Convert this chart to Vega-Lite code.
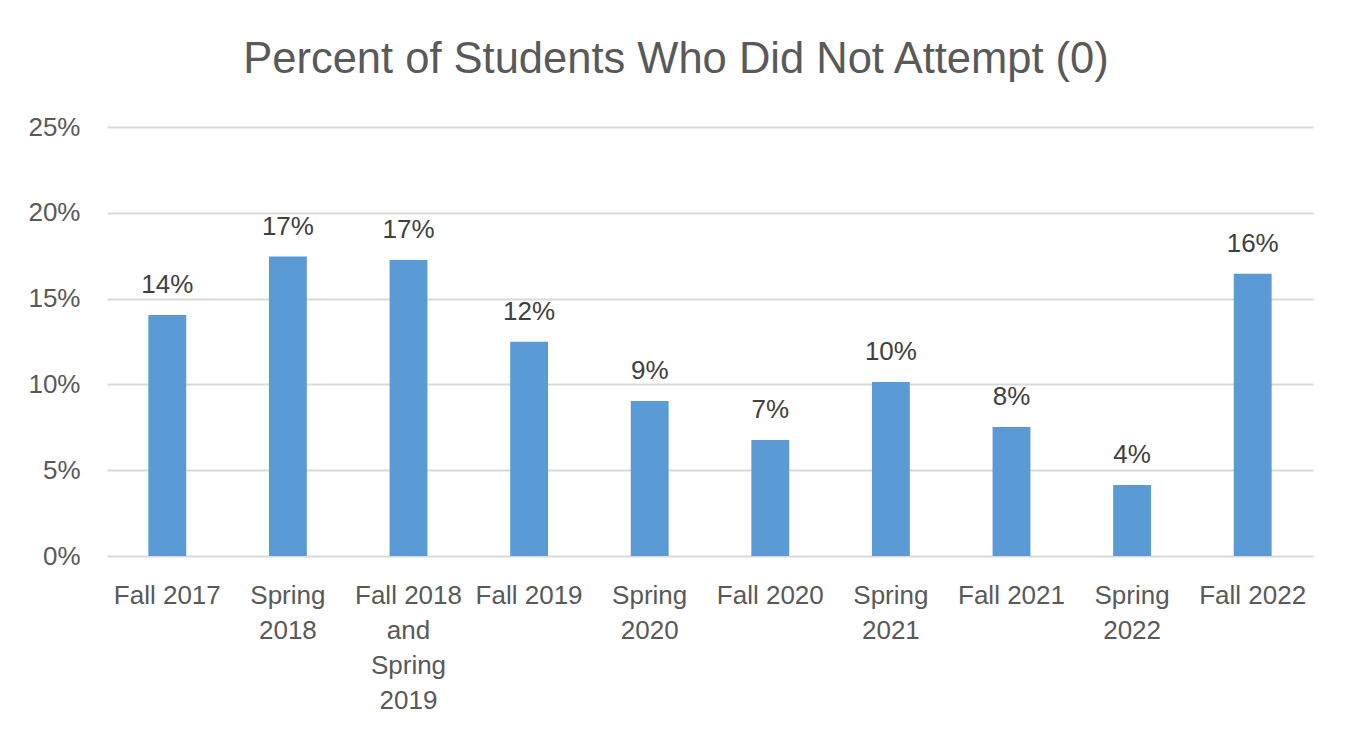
{
  "$schema": "https://vega.github.io/schema/vega-lite/v6.json",
  "width": 1206,
  "height": 429,
  "autosize": {"type": "none"},
  "padding": {"left": 107, "top": 127, "right": 38, "bottom": 173},
  "background": "white",
  "title": {
    "text": "Percent of Students Who Did Not Attempt (0)",
    "font": "Liberation Sans",
    "fontSize": 43.5,
    "fontWeight": "normal",
    "color": "#595959",
    "anchor": "middle",
    "dx": -34,
    "offset": 32
  },
  "data": {
    "values": [
      {"term": "Fall 2017", "pct": 0.1404},
      {"term": "Spring 2018", "pct": 0.1745},
      {"term": "Fall 2018 and Spring 2019", "pct": 0.1725},
      {"term": "Fall 2019", "pct": 0.1249},
      {"term": "Spring 2020", "pct": 0.0903},
      {"term": "Fall 2020", "pct": 0.0676},
      {"term": "Spring 2021", "pct": 0.1014},
      {"term": "Fall 2021", "pct": 0.0752},
      {"term": "Spring 2022", "pct": 0.0414},
      {"term": "Fall 2022", "pct": 0.1645}
    ]
  },
  "encoding": {
    "x": {
      "field": "term",
      "type": "nominal",
      "sort": null,
      "scale": {"paddingInner": 0.686, "paddingOuter": 0.343},
      "axis": {
        "title": null,
        "labelAngle": 0,
        "ticks": false,
        "tickSize": 0,
        "domain": false,
        "labelPadding": 26,
        "labelFont": "Liberation Sans",
        "labelFontSize": 26,
        "labelColor": "#595959",
        "labelLineHeight": 35,
        "labelBaseline": "top",
        "labelLimit": 300,
        "labelExpr": "datum.label == 'Fall 2018 and Spring 2019' ? ['Fall 2018', 'and', 'Spring', '2019'] : indexof(datum.label, 'Spring') == 0 ? split(datum.label, ' ') : datum.label"
      }
    },
    "y": {
      "field": "pct",
      "type": "quantitative",
      "scale": {"domain": [0, 0.25], "nice": false},
      "axis": {
        "title": null,
        "format": ".0%",
        "values": [0, 0.05, 0.1, 0.15, 0.2, 0.25],
        "ticks": false,
        "tickSize": 0,
        "domain": false,
        "labelPadding": 27,
        "labelFont": "Liberation Sans",
        "labelFontSize": 26,
        "labelColor": "#595959",
        "grid": true,
        "gridColor": "#d9d9d9",
        "gridWidth": 2
      }
    }
  },
  "layer": [
    {"mark": {"type": "bar", "color": "#5b9bd5"}},
    {
      "mark": {
        "type": "text",
        "font": "Liberation Sans",
        "fontSize": 26,
        "color": "#404040",
        "baseline": "alphabetic",
        "dy": -22
      },
      "encoding": {
        "text": {"field": "pct", "type": "quantitative", "format": ".0%"}
      }
    }
  ],
  "config": {
    "view": {"stroke": null}
  }
}
